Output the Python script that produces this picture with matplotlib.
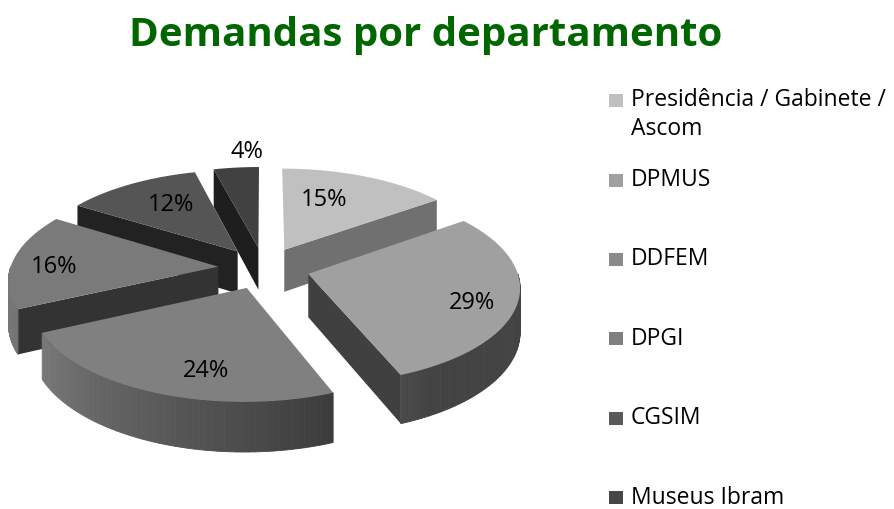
import numpy as np
import matplotlib.pyplot as plt
from matplotlib.patches import Polygon, Rectangle

# dados do gráfico
categorias = ['Presidência / Gabinete /', 'DPMUS', 'DDFEM', 'DPGI', 'CGSIM', 'Museus Ibram']
valores = [15, 29, 24, 16, 12, 4]
rotulos = ['15%', '29%', '24%', '16%', '12%', '4%']

cores_topo = ['#c0c0c0', '#a0a0a0', '#808080', '#7a7a7a', '#555555', '#414141']
cores_parede = ['#707070', '#404040', '#3a3a3a', '#333333', '#222222', '#1e1e1e']
cores_legenda = ['#c0c0c0', '#a0a0a0', '#8a8a8a', '#7f7f7f', '#5a5a5a', '#474747']

# posição dos rótulos: raio relativo e desvio angular (graus)
raio_rotulo = [0.63, 0.8, 0.77, 0.79, 0.65, 1.22]
desvio_rotulo = [-7, 5, -9, -4, 3, 4]

# parâmetros da "perspectiva" 3D
CX, CY = 264, 268
RX, RY = 208, 95
C = 0.12
DEPTH = 43
EXPLODE = 0.22


def proj(u, v, z=0.0):
    s = 1.0 / (1.0 + C * v)
    return CX + RX * u * s, CY - RY * v * s - z * s


def shade(hexcor, f):
    r, g, b = [int(hexcor[i:i + 2], 16) / 255 for i in (1, 3, 5)]
    return (min(r * f, 1), min(g * f, 1), min(b * f, 1))


fig = plt.figure(figsize=(8.94, 5.09), dpi=100)
ax = fig.add_axes([0, 0, 1, 1])
ax.set_xlim(0, 894)
ax.set_ylim(509, 0)
ax.axis('off')

total = sum(valores)
fatias = []
acum = 0.0
for i, val in enumerate(valores):
    a0 = acum / total * 360
    acum += val
    a1 = acum / total * 360
    meio = np.radians((a0 + a1) / 2)
    ou, ov = EXPLODE * np.sin(meio), EXPLODE * np.cos(meio)
    fatias.append((i, a0, a1, ou, ov))

# desenha de trás para frente
for i, a0, a1, ou, ov in sorted(fatias, key=lambda f: -f[4]):
    # paredes radiais visíveis
    for ang, lado in ((a0, 'ini'), (a1, 'fim')):
        t = np.radians(ang)
        vis = np.sin(t) > 0.01 if lado == 'fim' else np.sin(t) < -0.01
        if not vis:
            continue
        pts = [proj(ou, ov, 0), proj(ou + np.sin(t), ov + np.cos(t), 0),
               proj(ou + np.sin(t), ov + np.cos(t), -DEPTH), proj(ou, ov, -DEPTH)]
        ax.add_patch(Polygon(pts, closed=True, facecolor=cores_parede[i], edgecolor='none'))

    # parede externa (só a parte voltada para frente)
    b0, b1 = max(a0, 90), min(a1, 270)
    if b1 > b0:
        angs = np.linspace(b0, b1, 60)
        for k in range(len(angs) - 1):
            t0, t1 = np.radians(angs[k]), np.radians(angs[k + 1])
            tm = (angs[k] + angs[k + 1]) / 2
            f = 0.42 + 0.55 * np.clip((tm - 150) / 100, 0, 1)
            pts = [proj(ou + np.sin(t0), ov + np.cos(t0), 0),
                   proj(ou + np.sin(t1), ov + np.cos(t1), 0),
                   proj(ou + np.sin(t1), ov + np.cos(t1), -DEPTH),
                   proj(ou + np.sin(t0), ov + np.cos(t0), -DEPTH)]
            c = shade(cores_topo[i], f)
            ax.add_patch(Polygon(pts, closed=True, facecolor=c, edgecolor=c, linewidth=0.6))

    # face superior
    angs = np.radians(np.linspace(a0, a1, 80))
    pts = [proj(ou, ov, 0)] + [proj(ou + np.sin(t), ov + np.cos(t), 0) for t in angs]
    ax.add_patch(Polygon(pts, closed=True, facecolor=cores_topo[i], edgecolor='none'))

# rótulos de porcentagem
for i, a0, a1, ou, ov in fatias:
    ang = np.radians((a0 + a1) / 2 + desvio_rotulo[i])
    r = raio_rotulo[i]
    x, y = proj(ou + r * np.sin(ang), ov + r * np.cos(ang), 0)
    ax.text(x, y, rotulos[i], ha='center', va='center', fontsize=17,
            family='Open Sans', color='black')

# título
fig.text(0.476, 0.93, 'Demandas por departamento', ha='center', va='center',
         fontsize=29, fontweight='bold', family='Open Sans', color='#006600')

# legenda
for i, cat in enumerate(categorias):
    y = 100 if i == 0 else 180 + 79.4 * (i - 1)
    ax.add_patch(Rectangle((609, y - 6.5), 14, 13, facecolor=cores_legenda[i], edgecolor='none'))
    ax.text(631, y, cat, ha='left', va='center', fontsize=16.5, family='Open Sans')
    if i == 0:
        ax.text(631, y + 29, 'Ascom', ha='left', va='center', fontsize=16.5,
                family='Open Sans')

fig.savefig('out.png', dpi=100)
